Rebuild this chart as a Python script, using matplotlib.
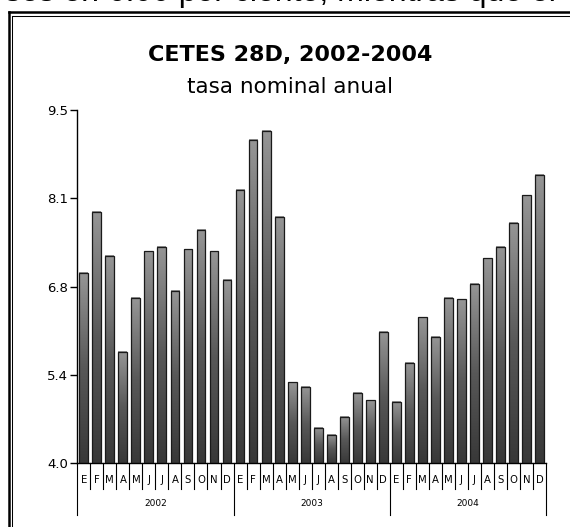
import numpy as np
import matplotlib
matplotlib.use("Agg")
import matplotlib.pyplot as plt
from matplotlib.colors import LinearSegmentedColormap
from matplotlib.lines import Line2D
import matplotlib.transforms as mtransforms

# ---- data ----
years = ["2002", "2003", "2004"]
months = ["E", "F", "M", "A", "M", "J", "J", "A", "S", "O", "N", "D"]
values_2002 = [6.96, 7.91, 7.23, 5.73, 6.58, 7.30, 7.37, 6.68, 7.33, 7.63, 7.30, 6.85]
values_2003 = [8.25, 9.03, 9.17, 7.84, 5.26, 5.19, 4.55, 4.44, 4.72, 5.09, 4.98, 6.04]
values_2004 = [4.95, 5.56, 6.27, 5.97, 6.58, 6.55, 6.79, 7.19, 7.37, 7.74, 8.17, 8.49]
values = values_2002 + values_2003 + values_2004
month_labels = months * 3
title = "CETES 28D, 2002-2004"
subtitle = "tasa nominal anual"
header_text = "ses en 6.00 por ciento, mientras que el"
YMIN, YMAX = 4.0, 9.5

W, H = 570, 527
fig = plt.figure(figsize=(W / 100, H / 100), dpi=100)
fig.patch.set_facecolor("white")

# axes placement (pixel based)
ax_left, ax_right, ax_bottom, ax_top = 77.3, 546.0, 463.3, 110.0
ax = fig.add_axes([ax_left / W, (H - ax_bottom) / H,
                   (ax_right - ax_left) / W, (ax_bottom - ax_top) / H])

x = np.arange(len(values))
bw = 0.68
bars = ax.bar(x, values, width=bw, facecolor="none", edgecolor="#1a1a1a",
              linewidth=0.9, zorder=3)

cmap = LinearSegmentedColormap.from_list("g", ["#383838", "#585858", "#969696"])
grad = np.linspace(0, 1, 256).reshape(-1, 1)
for rect, v in zip(bars, values):
    x0 = rect.get_x()
    ax.imshow(grad, extent=(x0, x0 + bw, YMIN, v), origin="lower",
              cmap=cmap, aspect="auto", zorder=2, interpolation="bilinear")

ax.set_xlim(-0.5, len(values) - 0.5)
ax.set_ylim(YMIN, YMAX)
ax.set_facecolor("white")

for s in ["top", "right"]:
    ax.spines[s].set_visible(False)
ax.spines["left"].set_linewidth(1.0)
ax.spines["bottom"].set_linewidth(1.0)
ax.spines["left"].set_color("black")
ax.spines["bottom"].set_color("black")

yt = np.linspace(YMIN, YMAX, 5)
ax.set_yticks(yt)
ax.set_yticklabels(["%.1f" % t for t in yt], fontsize=9.5, family="DejaVu Sans")
ax.tick_params(axis="y", direction="out", length=5, width=1.0, pad=1.5, colors="black")
ax.set_xticks([])

# category separators and labels below axis
trans = mtransforms.blended_transform_factory(ax.transData, ax.transAxes)
axh = ax_bottom - ax_top
month_sep = -(489 - ax_bottom) / axh
year_sep = -(515 - ax_bottom) / axh
month_y = -(480 - ax_bottom) / axh
year_y = -(504 - ax_bottom) / axh
n = len(values)
for b in range(n + 1):
    xb = b - 0.5
    yend = year_sep if b % 12 == 0 else month_sep
    ax.add_line(Line2D([xb, xb], [0, yend], transform=trans, color="black",
                       linewidth=0.8, clip_on=False))
for i, lab in enumerate(month_labels):
    ax.text(i, month_y, lab, transform=trans, ha="center", va="center",
            fontsize=7.3, family="DejaVu Sans")
for k, yr in enumerate(years):
    ax.text(12 * k + 5.5, year_y, yr, transform=trans, ha="center", va="center",
            fontsize=6.5, family="DejaVu Sans")

# titles
fig.text(290 / W, 1 - 55 / H, title, ha="center", va="center", fontsize=16,
         fontweight="bold", family="DejaVu Sans")
fig.text(290 / W, 1 - 87 / H, subtitle, ha="center", va="center", fontsize=15.5,
         family="DejaVu Sans")

# clipped document text at top (cut off by the page edge, as in the reference)
fig.text(5 / W, 1 - 1.5 / H, header_text, ha="left", va="baseline", fontsize=23,
         family="Liberation Sans")

# double frame
fig.add_artist(Line2D([8.7 / W, 8.7 / W], [1 - 12.2 / H, -0.05], transform=fig.transFigure,
                      color="black", linewidth=1.8))
fig.add_artist(Line2D([8.7 / W, 1.05], [1 - 12.2 / H, 1 - 12.2 / H], transform=fig.transFigure,
                      color="black", linewidth=1.8))
fig.add_artist(Line2D([12.2 / W, 12.2 / W], [1 - 15.5 / H, -0.05], transform=fig.transFigure,
                      color="black", linewidth=0.75))
fig.add_artist(Line2D([12.2 / W, 1.05], [1 - 15.5 / H, 1 - 15.5 / H], transform=fig.transFigure,
                      color="black", linewidth=0.75))

fig.savefig("out.png", dpi=100, facecolor="white")
